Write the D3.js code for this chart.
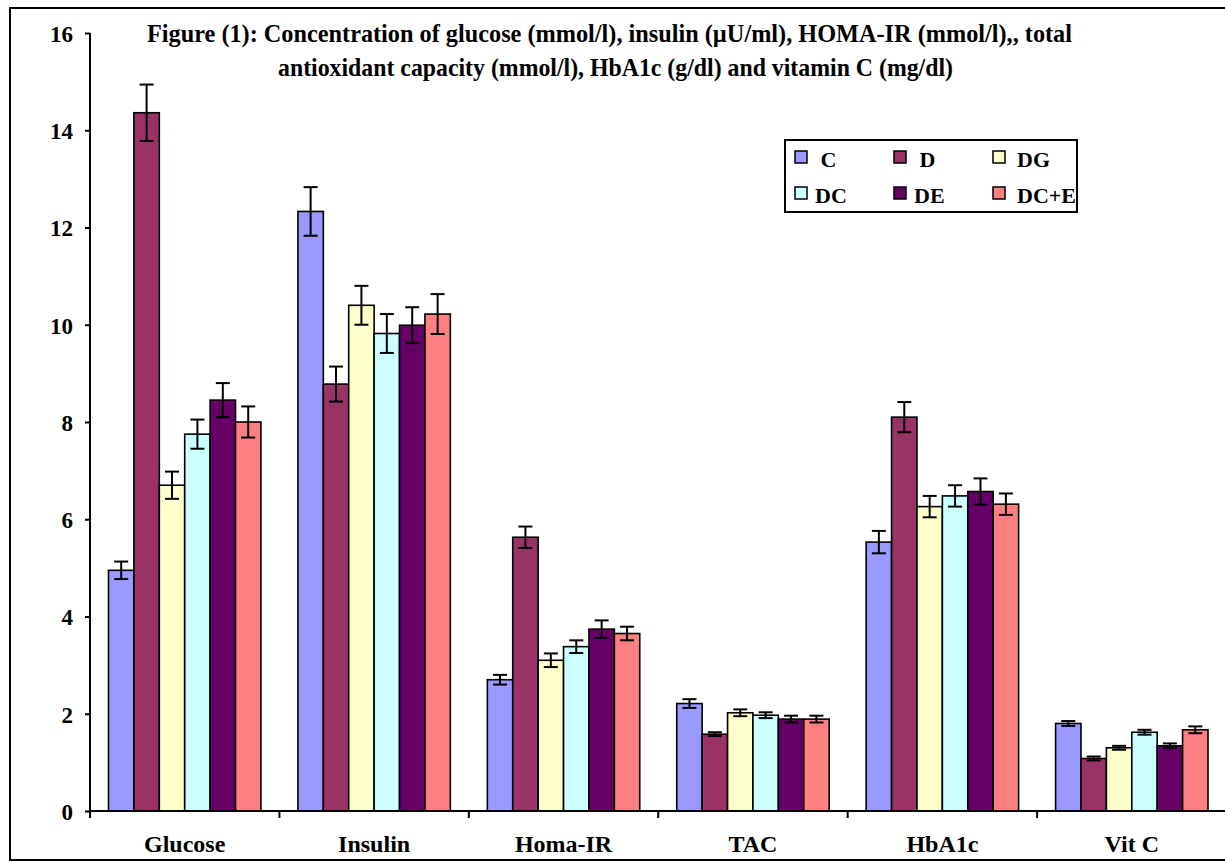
<!DOCTYPE html>
<html>
<head>
<meta charset="utf-8">
<script src="https://cdn.jsdelivr.net/npm/d3@7"></script>
<style>
  body { margin: 0; background: #fff; }
  text { font-family: "Liberation Serif", "Times New Roman", serif; font-weight: bold; fill: #000; }
</style>
</head>
<body>
<svg id="chart"></svg>
<script>
let width = 1225, height = 862;

// categories and groups
let categories = ["Glucose", "Insulin", "Homa-IR", "TAC", "HbA1c", "Vit C"];
let groups = ["C", "D", "DG", "DC", "DE", "DC+E"];
let legendLabels = ["\u00a0C", "\u00a0D", "DG", "DC", "DE", "DC+E"];
let colors = ["#9999ff", "#993366", "#ffffcc", "#ccffff", "#660066", "#ff8080"];

// mean values, one array per group (order = categories)
let valC   = [4.95, 12.33, 2.70, 2.21, 5.53, 1.80];
let valD   = [14.36, 8.78, 5.63, 1.58, 8.10, 1.08];
let valDG  = [6.70, 10.40, 3.10, 2.02, 6.26, 1.30];
let valDC  = [7.75, 9.82, 3.38, 1.97, 6.48, 1.62];
let valDE  = [8.45, 9.99, 3.74, 1.89, 6.57, 1.34];
let valDCE = [8.00, 10.22, 3.65, 1.89, 6.31, 1.67];

// error (+/-)
let errC   = [0.18, 0.50, 0.10, 0.09, 0.23, 0.05];
let errD   = [0.58, 0.36, 0.22, 0.04, 0.31, 0.04];
let errDG  = [0.28, 0.40, 0.14, 0.07, 0.22, 0.04];
let errDC  = [0.30, 0.40, 0.13, 0.06, 0.22, 0.05];
let errDE  = [0.35, 0.37, 0.18, 0.07, 0.27, 0.05];
let errDCE = [0.32, 0.41, 0.14, 0.07, 0.22, 0.07];

let yTicks = [0, 2, 4, 6, 8, 10, 12, 14, 16];

let titleLines = [
  "Figure (1): Concentration of glucose (mmol/l), insulin (\u00b5U/ml), HOMA-IR (mmol/l),, total",
  "antioxidant capacity (mmol/l), HbA1c (g/dl) and vitamin C (mg/dl)"
];

let values = [valC, valD, valDG, valDC, valDE, valDCE];
let errors = [errC, errD, errDG, errDC, errDE, errDCE];

let svg = d3.select("#chart")
  .attr("width", width)
  .attr("height", height);

// outer frame
svg.append("rect")
  .attr("x", 10).attr("y", 8)
  .attr("width", 1240).attr("height", 852)
  .attr("fill", "none")
  .attr("stroke", "#000")
  .attr("stroke-width", 2);

let x0 = d3.scaleBand()
  .domain(categories)
  .range([90, 1226.5]);

let x1 = d3.scaleBand()
  .domain(groups)
  .range([18.5, x0.bandwidth() - 18.5]);

let y = d3.scaleLinear()
  .domain([0, 16])
  .range([811, 33]);

// rows of data for bars
let rows = [];
groups.forEach((g, gi) => {
  categories.forEach((c, ci) => {
    rows.push({ cat: c, grp: g, gi: gi, v: values[gi][ci], e: errors[gi][ci] });
  });
});

svg.append("g")
  .selectAll("rect")
  .data(rows)
  .join("rect")
  .attr("x", d => x0(d.cat) + x1(d.grp))
  .attr("y", d => y(d.v))
  .attr("width", x1.bandwidth())
  .attr("height", d => y(0) - y(d.v))
  .attr("fill", d => colors[d.gi])
  .attr("stroke", "#000")
  .attr("stroke-width", 1.6);

// error bars
let eb = svg.append("g")
  .attr("stroke", "#000")
  .attr("stroke-width", 2);

rows.forEach(d => {
  let cx = x0(d.cat) + x1(d.grp) + x1.bandwidth() / 2;
  eb.append("line")
    .attr("x1", cx).attr("x2", cx)
    .attr("y1", y(d.v + d.e)).attr("y2", y(d.v - d.e));
  [d.v + d.e, d.v - d.e].forEach(t => {
    eb.append("line")
      .attr("x1", cx - 7).attr("x2", cx + 7)
      .attr("y1", y(t)).attr("y2", y(t));
  });
});

// y axis
let yAxis = svg.append("g")
  .attr("transform", "translate(90,0)")
  .call(d3.axisLeft(y).tickValues(yTicks).tickSize(5).tickPadding(12).tickFormat(d3.format("d")));
yAxis.selectAll("path, line").attr("stroke", "#000").attr("stroke-width", 2);
yAxis.select(".domain").attr("d", "M0," + y(16) + "V" + y(0));
yAxis.selectAll("text")
  .attr("dy", "0.36em")
  .style("font-size", "23px")
  .style("font-family", "Liberation Serif, serif")
  .style("font-weight", "bold");

// x axis
let xAxis = svg.append("g")
  .attr("transform", "translate(0," + y(0) + ")");
xAxis.append("line")
  .attr("x1", 90).attr("x2", 1230)
  .attr("stroke", "#000").attr("stroke-width", 2);
xAxis.selectAll(".tk")
  .data(categories)
  .join("line")
  .attr("class", "tk")
  .attr("x1", d => x0(d)).attr("x2", d => x0(d))
  .attr("y1", 0).attr("y2", 7)
  .attr("stroke", "#000").attr("stroke-width", 2);
xAxis.selectAll(".lbl")
  .data(categories)
  .join("text")
  .attr("class", "lbl")
  .attr("x", d => x0(d) + x0.bandwidth() / 2)
  .attr("y", 41)
  .attr("text-anchor", "middle")
  .style("font-size", "24px")
  .text(d => d);

// title
let titleX = [609.5, 615.5], titleY = [42, 76], titleW = [925, 675];
svg.selectAll(".title")
  .data(titleLines)
  .join("text")
  .attr("class", "title")
  .attr("x", (d, i) => titleX[i] - titleW[i] / 2)
  .attr("y", (d, i) => titleY[i])
  .attr("textLength", (d, i) => titleW[i])
  .attr("lengthAdjust", "spacingAndGlyphs")
  .style("font-size", "25px")
  .text(d => d);

// legend
let legend = svg.append("g");
legend.append("rect")
  .attr("x", 785).attr("y", 140)
  .attr("width", 292).attr("height", 72)
  .attr("fill", "#fff")
  .attr("stroke", "#000")
  .attr("stroke-width", 2);

let li = legend.selectAll(".li")
  .data(groups)
  .join("g")
  .attr("class", "li")
  .attr("transform", (d, i) => "translate(" + (795 + (i % 3) * 99) + "," + (151 + Math.floor(i / 3) * 36) + ")");
li.append("rect")
  .attr("width", 12).attr("height", 12)
  .attr("fill", (d, i) => colors[i])
  .attr("stroke", "#000")
  .attr("stroke-width", 1.5);
li.append("text")
  .attr("x", (d, i) => (i % 3 === 2) ? 24 : 20)
  .attr("y", 16)
  .style("font-size", "22px")
  .text((d, i) => legendLabels[i]);
</script>
</body>
</html>
